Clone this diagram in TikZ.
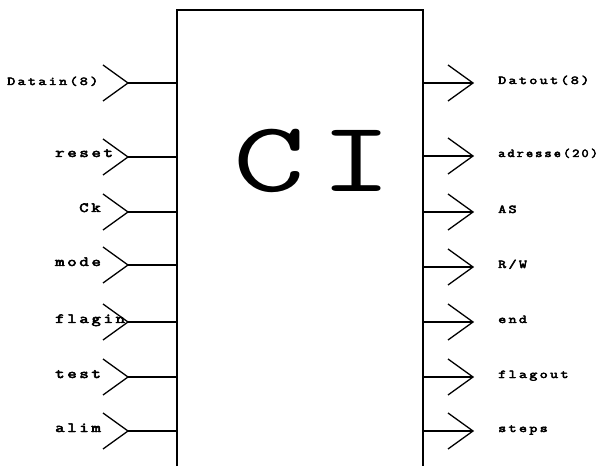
\documentclass[tikz,border=0pt]{standalone}
\usepackage{fontspec}
\usepackage{graphicx}
\newfontfamily\pinfont[LetterSpace=15,FakeBold=3.5]{Latin Modern Mono}
\newfontfamily\bigfont[LetterSpace=10]{Latin Modern Mono}
\newcommand{\wideTxt}[1]{\scalebox{1.3}[1]{#1}}
\newcommand{\narrowTxt}[1]{\scalebox{1.16}[1]{#1}}
\newcommand{\wideBig}[1]{\scalebox{1.4}[1]{#1}}
\tikzset{
  boxline/.style={line width=1.8pt},
  wire/.style={line width=1.3pt},
  chev/.style={line width=1.3pt},
  inlab/.style={inner sep=0pt, anchor=base west, font=\pinfont\fontsize{14}{14}\selectfont},
  smlab/.style={inner sep=0pt, anchor=base west, font=\pinfont\fontsize{12}{12}\selectfont},
  outlab/.style={inner sep=0pt, anchor=base west, font=\pinfont\fontsize{12}{12}\selectfont},
}
\begin{document}
\begin{tikzpicture}[x=1pt,y=1pt]
\useasboundingbox (0,0) rectangle (602,466);
% box (open at bottom)
\coordinate (bl) at (177,0);
\coordinate (tl) at (177,456);
\coordinate (tr) at (423,456);
\coordinate (br) at (423,0);
\draw[boxline] (bl) -- (tl) -- (tr) -- (br);
\node[inner sep=0pt, anchor=base, font=\bigfont\fontsize{100}{100}\selectfont] (title) at (313,274) {\wideBig{CI}};
% inputs
\foreach \n/\y in {i1/383, i2/309, i3/254, i4/201, i5/144, i6/89, i7/35}{
  \coordinate (\n pin) at (177,\y);
  \coordinate (\n tip) at (128,\y);
  \coordinate (\n a) at (103,\y+18);
  \coordinate (\n b) at (103,\y-18);
  \draw[wire] (\n tip) -- (\n pin);
  \draw[chev] (\n a) -- (\n tip) -- (\n b);
}
\node[smlab] (l1) at (7,381) {\wideTxt{Datain(8)}};
\node[inlab] (l2) at (55,309) {\wideTxt{reset}};
\node[inlab] (l3) at (79,254) {\wideTxt{Ck}};
\node[inlab] (l4) at (55,200) {\wideTxt{mode}};
\node[inlab] (l5) at (55,143) {\wideTxt{flagin}};
\node[inlab] (l6) at (55,88) {\wideTxt{test}};
\node[inlab] (l7) at (55,34) {\wideTxt{alim}};
% outputs
\foreach \n/\y in {o1/383, o2/310, o3/254, o4/199, o5/144, o6/89, o7/35}{
  \coordinate (\n pin) at (423,\y);
  \coordinate (\n tip) at (473,\y);
  \coordinate (\n a) at (448,\y+18);
  \coordinate (\n b) at (448,\y-18);
  \draw[wire] (\n pin) -- (\n tip);
  \draw[chev] (\n a) -- (\n tip) -- (\n b);
}
\node[outlab] (r1) at (498,382) {\wideTxt{Datout(8)}};
\node[outlab] (r2) at (498,309) {\narrowTxt{adresse(20)}};
\node[outlab] (r3) at (498,253) {\wideTxt{AS}};
\node[outlab] (r4) at (498,198) {\wideTxt{R/W}};
\node[outlab] (r5) at (498,143) {\wideTxt{end}};
\node[outlab] (r6) at (498,88) {\wideTxt{flagout}};
\node[outlab] (r7) at (498,34) {\wideTxt{steps}};
\end{tikzpicture}
\end{document}
